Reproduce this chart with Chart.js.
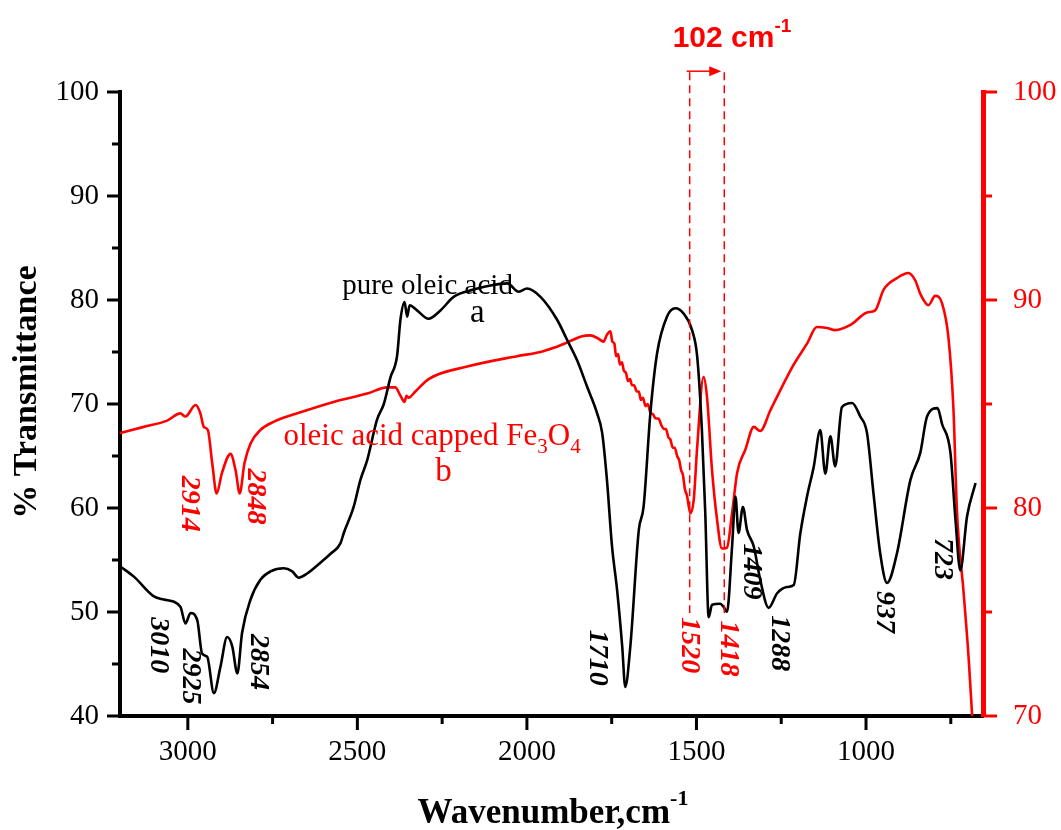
<!DOCTYPE html>
<html lang="en">
<head>
<meta charset="UTF-8">
<title>FTIR - oleic acid and oleic acid capped Fe3O4</title>
<script src="https://cdn.jsdelivr.net/npm/chart.js"></script>
<style>
  body { margin: 0; background: #fff; }
  #wrap { width: 1061px; height: 830px; }
</style>
</head>
<body>
<div id="wrap"><canvas id="ftir" width="1061" height="830"></canvas></div>
<script>
// curve a: pure oleic acid (left axis, % transmittance)
const wnA = [3200, 3159, 3100, 3071, 3022, 3007, 2992, 2972, 2958, 2943, 2923, 2904, 2884, 2869, 2854, 2840,
  2815, 2786, 2756, 2717, 2692, 2673, 2648, 2600, 2579, 2550, 2540, 2511, 2491, 2471, 2442, 2422, 2402, 2383,
  2373, 2361, 2353, 2346, 2324, 2290, 2255, 2216, 2157, 2108, 2058, 2024, 2000, 1960, 1911, 1882, 1852, 1823,
  1793, 1778, 1764, 1749, 1734, 1719, 1710, 1695, 1670, 1656, 1636, 1616, 1587, 1562, 1538, 1513, 1498, 1484,
  1474, 1464, 1454, 1430, 1420, 1410, 1395, 1385, 1376, 1363, 1351, 1331, 1312, 1287, 1262, 1233, 1213, 1194,
  1174, 1154, 1135, 1120, 1105, 1091, 1071, 1041, 1017, 997, 978, 958, 938, 909, 869, 840, 820, 789, 776, 751,
  736, 722, 702, 677];
const tA = [54.4, 53.4, 51.5, 51.2, 50.5, 48.9, 49.9, 49.2, 46.0, 45.7, 42.2, 44.7, 47.6, 46.7, 44.1, 48.0,
  51.2, 53.1, 53.9, 54.2, 53.9, 53.3, 53.7, 55.0, 55.6, 56.6, 57.6, 60.1, 62.7, 64.6, 68.5, 70.0, 72.6, 74.6,
  78.1, 79.8, 78.4, 79.5, 79.0, 78.2, 79.0, 80.3, 81.0, 81.4, 81.6, 80.8, 81.1, 80.3, 78.1, 76.2, 74.2, 71.7,
  69.1, 67.2, 62.7, 56.3, 52.1, 46.7, 42.8, 46.7, 57.9, 60.1, 69.1, 74.9, 78.4, 79.2, 78.7, 77.1, 74.6, 67.5,
  59.5, 49.5, 50.7, 50.8, 50.5, 50.0, 56.3, 61.1, 57.6, 60.1, 57.9, 56.3, 53.1, 50.4, 51.8, 52.4, 52.6, 57.5,
  61.1, 64.0, 67.5, 63.3, 66.9, 64.0, 69.7, 70.1, 68.8, 67.2, 61.4, 55.6, 52.8, 55.6, 62.7, 65.3, 68.8, 69.6, 68.1, 65.3,
  58.8, 54.0, 59.2, 62.4];

// curve b: oleic acid capped Fe3O4 (right axis)
const wnB = [3200, 3130, 3061, 3022, 3007, 2977, 2963, 2953, 2941, 2928, 2915, 2899, 2874, 2859, 2847, 2833,
  2815, 2786, 2746, 2668, 2570, 2471, 2412, 2388, 2373, 2361, 2355, 2349, 2329, 2290, 2176, 2029, 1960, 1921, 1890,
  1862, 1840, 1813, 1790, 1774, 1765, 1754, 1748, 1742, 1737, 1731, 1726, 1720, 1714, 1708, 1702, 1696, 1690,
  1684, 1676, 1670, 1664, 1658, 1650, 1644, 1636, 1628, 1620, 1612, 1604, 1596, 1590, 1583, 1577, 1570, 1564,
  1557, 1551, 1545, 1540, 1534, 1528, 1518, 1508, 1498, 1479, 1469, 1454, 1439, 1425, 1410, 1395, 1380, 1356,
  1331, 1312, 1282, 1273, 1213, 1174, 1145, 1115, 1091, 1046, 997, 973, 948, 909, 875, 855, 840, 816, 796, 776,
  757, 742, 732, 712, 697, 687];
const tB = [83.6, 83.9, 84.2, 84.55, 84.4, 84.95, 84.55, 83.9, 83.75, 82.15, 80.7, 81.7, 82.6, 81.8, 80.7, 82.15,
  83.1, 83.75, 84.15, 84.6, 85.1, 85.5, 85.8, 85.8, 85.4, 85.1, 85.4, 85.3, 85.6, 86.2, 86.8, 87.3, 87.5, 87.7, 87.9,
  88.1, 88.25, 88.3, 88.15, 88.0, 88.3, 88.5, 88.0, 87.9, 87.3, 87.4, 86.9, 87.0, 86.6, 86.5, 86.1, 86.2, 85.9,
  85.9, 85.6, 85.6, 85.2, 85.3, 84.9, 85.0, 84.6, 84.5, 84.3, 84.3, 84.0, 83.8, 83.8, 83.4, 83.3, 82.9, 82.9,
  82.5, 82.3, 81.8, 81.6, 80.9, 80.6, 79.75, 80.4, 82.9, 86.3, 85.35, 81.8, 79.4, 78.05, 78.1, 79.75, 81.7, 82.8,
  83.9, 83.7, 84.7, 85.0, 86.9, 87.9, 88.7, 88.65, 88.55, 88.8, 89.4, 89.5, 90.5, 91.05, 91.3, 90.95, 90.3, 89.75, 90.2, 89.85,
  88.2, 84.7, 79.9, 75.9, 72.7, 70.0];

const xTicks = [3000, 2750, 2500, 2250, 2000, 1750, 1500, 1250, 1000, 750];
const yTicks = [40, 45, 50, 55, 60, 65, 70, 75, 80, 85, 90, 95, 100];
const y2Ticks = [70, 75, 80, 85, 90, 95, 100];

// peak labels (text, wavenumber, left-axis value, colour)
const peakLabels = [
  ['3010', 3086, 46.8, 'black'], ['2925', 2992, 43.8, 'black'], ['2854', 2792, 45.2, 'black'],
  ['2914', 2995, 60.4, 'red'], ['2848', 2800, 61.1, 'red'],
  ['1710', 1792, 45.6, 'black'], ['1520', 1521, 46.8, 'red'], ['1418', 1406, 46.5, 'red'],
  ['1409', 1338, 53.9, 'black'], ['1288', 1257, 47.0, 'black'], ['937', 946, 50.0, 'black'], ['723', 775, 55.1, 'black']
];

const SERIF = '"Liberation Serif", "Times New Roman", serif';

function drawTicks(ctx, scale, values, horizontal, dir, color, majorEvery, majorLen, minorLen, edge) {
  ctx.save();
  ctx.strokeStyle = color;
  ctx.lineWidth = 3;
  values.forEach(v => {
    const p = scale.getPixelForValue(v);
    const len = v % majorEvery === 0 ? majorLen : minorLen;
    ctx.beginPath();
    if (horizontal) { ctx.moveTo(p, edge); ctx.lineTo(p, edge + dir * len); }
    else { ctx.moveTo(edge, p); ctx.lineTo(edge + dir * len, p); }
    ctx.stroke();
  });
  ctx.restore();
}

// parts: [text, unused, dy, font]
function textWithScript(ctx, parts, x, y, align) {
  let total = 0;
  parts.forEach(p => { ctx.font = p[3]; total += ctx.measureText(p[0]).width; });
  let cx = align === 'center' ? x - total / 2 : x;
  ctx.textAlign = 'left';
  parts.forEach(p => {
    ctx.font = p[3];
    ctx.fillText(p[0], cx, y + p[2]);
    cx += ctx.measureText(p[0]).width;
  });
}

const annotate = {
  id: 'annotate',
  afterDraw(chart) {
    const {ctx, chartArea: ca, scales: {x, y, y2}} = chart;
    // axis ticks
    drawTicks(ctx, x, xTicks, true, 1, 'black', 500, 14, 8, ca.bottom);
    drawTicks(ctx, y, yTicks, false, -1, 'black', 10, 13, 8, ca.left);
    drawTicks(ctx, y2, y2Ticks, false, 1, 'red', 10, 14, 9, ca.right);

    ctx.save();
    ctx.textBaseline = 'alphabetic';
    // rotated peak labels
    ctx.font = 'italic bold 28px ' + SERIF;
    peakLabels.forEach(([txt, wn, t, col]) => {
      ctx.save();
      ctx.translate(x.getPixelForValue(wn), y.getPixelForValue(t));
      ctx.rotate(Math.PI / 2);
      ctx.fillStyle = col;
      ctx.textAlign = 'center';
      ctx.textBaseline = 'middle';
      ctx.fillText(txt, 0, 0);
      ctx.restore();
    });

    // curve names
    ctx.fillStyle = 'black';
    ctx.textAlign = 'center';
    ctx.font = '29px ' + SERIF;
    ctx.fillText('pure oleic acid', x.getPixelForValue(2293), y.getPixelForValue(80.6));
    ctx.font = '33px ' + SERIF;
    ctx.fillText('a', x.getPixelForValue(2146), y.getPixelForValue(77.9));
    ctx.fillStyle = 'red';
    const f = '31px ' + SERIF, fs = '21px ' + SERIF;
    textWithScript(ctx, [['oleic acid capped Fe', 0, 0, f], ['3', 0, 8, fs], ['O', 0, 0, f], ['4', 0, 8, fs]],
      x.getPixelForValue(2718), y.getPixelForValue(66.1), 'left');
    ctx.font = '33px ' + SERIF;
    ctx.textAlign = 'center';
    ctx.fillText('b', x.getPixelForValue(2246), y.getPixelForValue(62.6));

    // shift markers 1520 -> 1418
    const xa = x.getPixelForValue(1520), xb = x.getPixelForValue(1418);
    const yTop = y.getPixelForValue(101.9), yBot = y.getPixelForValue(49.9);
    ctx.strokeStyle = 'red';
    ctx.lineWidth = 1.5;
    ctx.setLineDash([8, 5]);
    [xa, xb].forEach(px => { ctx.beginPath(); ctx.moveTo(px, yTop); ctx.lineTo(px, yBot); ctx.stroke(); });
    ctx.setLineDash([]);
    const ya = y.getPixelForValue(102.0);
    ctx.beginPath(); ctx.moveTo(xa - 3, ya); ctx.lineTo(xb - 10, ya); ctx.stroke();
    ctx.fillStyle = 'red';
    ctx.beginPath(); ctx.moveTo(xb - 3, ya); ctx.lineTo(xb - 15, ya - 5); ctx.lineTo(xb - 15, ya + 5); ctx.closePath(); ctx.fill();
    textWithScript(ctx, [['102 cm', 0, 0, 'bold 30px "Liberation Sans", Arial, sans-serif'],
      ['-1', 0, -15, 'bold 19px "Liberation Sans", Arial, sans-serif']], 732, 47, 'center');

    // axis titles
    ctx.fillStyle = 'black';
    textWithScript(ctx, [['Wavenumber,cm', 0, 0, 'bold 35px ' + SERIF], ['-1', 0, -18, 'bold 22px ' + SERIF]],
      553, 823, 'center');
    ctx.translate(36, 392);
    ctx.rotate(-Math.PI / 2);
    ctx.textAlign = 'center';
    ctx.font = 'bold 34px ' + SERIF;
    ctx.fillText('% Transmittance', 0, 0);
    ctx.restore();
  }
};

const toPoints = (xs, ys) => xs.map((v, i) => ({x: v, y: ys[i]}));
const tickFont = {family: SERIF, size: 29};

new Chart(document.getElementById('ftir'), {
  type: 'line',
  data: {
    datasets: [
      {label: 'pure oleic acid', data: toPoints(wnA, tA), yAxisID: 'y', borderColor: 'black',
        borderWidth: 2.6, pointRadius: 0, cubicInterpolationMode: 'monotone'},
      {label: 'oleic acid capped Fe3O4', data: toPoints(wnB, tB), yAxisID: 'y2', borderColor: 'red',
        borderWidth: 2.6, pointRadius: 0, cubicInterpolationMode: 'monotone'}
    ]
  },
  options: {
    responsive: false,
    animation: false,
    layout: {padding: {top: 92, left: 0, right: 0, bottom: 0}},
    plugins: {legend: {display: false}, tooltip: {enabled: false}},
    scales: {
      x: {
        type: 'linear', reverse: true, min: 655, max: 3200, position: 'bottom',
        afterBuildTicks: s => { s.ticks = xTicks.map(v => ({value: v})); },
        afterFit: s => { s.height = 114; },
        grid: {display: false},
        border: {display: true, color: 'black', width: 4},
        ticks: {color: 'black', font: tickFont, padding: 11, maxRotation: 0, autoSkip: false,
          callback: v => (v % 500 === 0 ? String(v) : '')}
      },
      y: {
        type: 'linear', min: 40, max: 100, position: 'left',
        afterBuildTicks: s => { s.ticks = yTicks.map(v => ({value: v})); },
        afterFit: s => { s.width = 120; },
        grid: {display: false},
        border: {display: true, color: 'black', width: 4},
        ticks: {color: 'black', font: tickFont, padding: 13, autoSkip: false,
          callback: v => (v % 10 === 0 ? String(v) : '')}
      },
      y2: {
        type: 'linear', min: 70, max: 100, position: 'right',
        afterBuildTicks: s => { s.ticks = y2Ticks.map(v => ({value: v})); },
        afterFit: s => { s.width = 78; },
        grid: {display: false},
        border: {display: true, color: 'red', width: 5},
        ticks: {color: 'red', font: tickFont, padding: 22, autoSkip: false,
          callback: v => (v % 10 === 0 ? String(v) : '')}
      }
    }
  },
  plugins: [annotate]
});
</script>
</body>
</html>
